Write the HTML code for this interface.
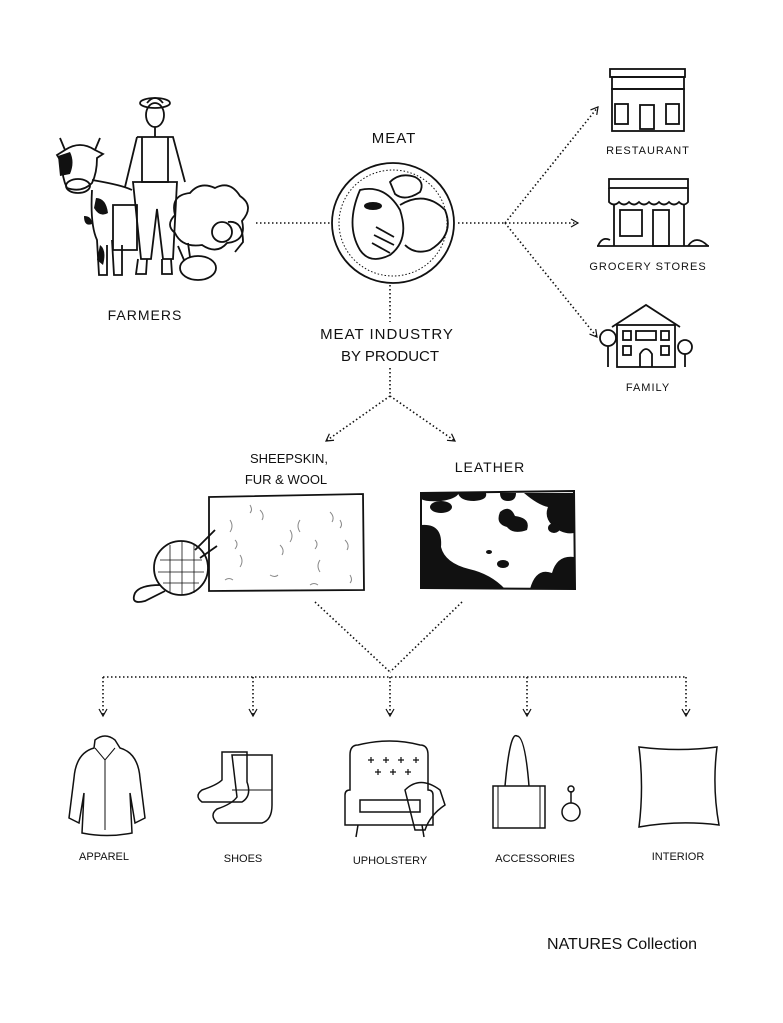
<!DOCTYPE html>
<html><head><meta charset="utf-8"><style>
html,body{margin:0;padding:0;background:#fff}
svg{display:block}
text{font-family:"Liberation Sans",sans-serif;fill:#111}
</style></head><body>
<svg width="783" height="1023" viewBox="0 0 783 1023" xmlns="http://www.w3.org/2000/svg">
<defs>
<marker id="ah" markerWidth="10" markerHeight="10" refX="8" refY="5" orient="auto" markerUnits="userSpaceOnUse">
<path d="M1,1 L8,5 L1,9" fill="none" stroke="#111" stroke-width="1.2"/></marker>
</defs>
<g fill="none" stroke="#111" stroke-width="1.6" stroke-dasharray="1.5 2.5">
<line x1="256" y1="223" x2="330" y2="223"/>
<line x1="458" y1="223" x2="505" y2="223"/>
<line x1="505" y1="223" x2="598" y2="107" marker-end="url(#ah)"/>
<line x1="505" y1="223" x2="578" y2="223" marker-end="url(#ah)"/>
<line x1="505" y1="223" x2="597" y2="337" marker-end="url(#ah)"/>
<line x1="390" y1="285" x2="390" y2="322"/>
<line x1="390" y1="368" x2="390" y2="396"/>
<line x1="390" y1="396" x2="326" y2="441" marker-end="url(#ah)"/>
<line x1="390" y1="396" x2="455" y2="441" marker-end="url(#ah)"/>
<line x1="315" y1="602" x2="390" y2="672"/>
<line x1="462" y1="602" x2="390" y2="672"/>
<line x1="103" y1="677" x2="686" y2="677"/>
<line x1="103" y1="677" x2="103" y2="716" marker-end="url(#ah)"/>
<line x1="253" y1="677" x2="253" y2="716" marker-end="url(#ah)"/>
<line x1="390" y1="677" x2="390" y2="716" marker-end="url(#ah)"/>
<line x1="527" y1="677" x2="527" y2="716" marker-end="url(#ah)"/>
<line x1="686" y1="677" x2="686" y2="716" marker-end="url(#ah)"/>
</g>

<!-- Farmers -->
<g fill="none" stroke="#111" stroke-width="1.8">
<ellipse cx="155" cy="103" rx="15" ry="5"/><path d="M147,103 q8,-10 16,0"/>
<ellipse cx="155" cy="115" rx="9" ry="12"/>
<path d="M137,137 h36 l12,45 M137,137 l-12,50 M155,127 v10"/>
<path d="M142,137 v45 h26 v-45"/>
<path d="M133,182 h44 l-4,77 h-10 l-6,-50 l-6,50 h-10 z"/>
<path d="M138,259 l-2,15 h10 l1,-15 M162,259 l0,15 h10 l-1,-15"/>
<path d="M113,205 h24 v45 h-24z"/>
<!-- cow -->
<path d="M57,155 l8,-5 q15,-10 30,0 l8,4 l-6,4 q0,15 -5,25 q-10,10 -25,5 q-5,-10 -5,-25z"/>
<path d="M65,150 l-5,-12 M95,150 l5,-12"/>
<ellipse cx="78" cy="186" rx="12" ry="7"/>
<path d="M92,180 q30,5 40,10 M92,190 q-2,35 5,50 l2,35 h8 l0,-30 M112,240 l2,35 h8 l0,-30"/>
<!-- sheep -->
<path d="M175,215 q-5,-20 15,-22 q10,-12 25,-5 q15,-8 25,8 q15,10 2,25 q5,20 -15,22 q-10,12 -25,2 q-20,3 -27,-12 q-10,-8 0,-18z"/>
<circle cx="222" cy="232" r="10"/>
<path d="M228,222 q15,-2 15,20 l-8,10"/>
<ellipse cx="198" cy="268" rx="18" ry="12"/>
<path d="M184,260 l-6,-14 M190,257 l-2,-14"/>
</g>
<path d="M58,156 l12,-4 q5,10 0,22 l-10,2z M96,198 q10,0 12,15 q-8,5 -14,-5z M84,216 q8,0 8,8 q-8,3 -8,-8z M100,245 q7,5 3,20 l-6,-5z" fill="#111"/>
<text x="145" y="320" font-size="14" text-anchor="middle" letter-spacing="1">FARMERS</text>

<!-- Meat plate -->
<text x="394" y="143" font-size="15" text-anchor="middle" letter-spacing="1">MEAT</text>
<g fill="none" stroke="#111" stroke-width="1.8">
<ellipse cx="393" cy="223" rx="61" ry="60"/>
<ellipse cx="393" cy="223" rx="54" ry="53" stroke-width="1" stroke-dasharray="1.5 2"/>
<path d="M360,190 q25,-6 40,20 q10,30 -10,45 q-20,10 -30,-5 q-15,-25 0,-60z"/>
<path d="M400,205 q25,-15 45,5 q10,25 -15,40 q-15,5 -25,-5"/>
<path d="M390,182 q10,-10 25,-5 q10,5 5,15 q-15,10 -25,2z"/>
<path d="M374,235 l20,10 M372,243 l18,10 M376,227 l18,10"/>
</g>
<ellipse cx="373" cy="206" rx="9" ry="4" fill="#111"/>

<!-- Restaurant -->
<g fill="none" stroke="#111" stroke-width="1.8">
<rect x="610" y="69" width="75" height="8"/>
<rect x="612" y="77" width="72" height="12"/>
<rect x="612" y="89" width="72" height="42"/>
<rect x="615" y="104" width="13" height="20"/><rect x="666" y="104" width="13" height="20"/>
<rect x="640" y="105" width="14" height="24"/>
</g>
<text x="648" y="154" font-size="11" text-anchor="middle" letter-spacing="1">RESTAURANT</text>
<!-- Grocery -->
<g fill="none" stroke="#111" stroke-width="1.8">
<rect x="609" y="179" width="79" height="9"/>
<path d="M609,188 v14 q5,5 10,0 q5,5 10,0 q5,5 10,0 q5,5 10,0 q5,5 10,0 q5,5 10,0 q5,5 10,0 q5,5 9,0 v-14"/>
<path d="M614,204 v42 M684,204 v42 M597,246 h112"/>
<rect x="620" y="210" width="22" height="26"/>
<rect x="653" y="210" width="16" height="36"/>
<path d="M598,246 q4,-10 12,-6 M688,246 q8,-12 20,0"/>
</g>
<text x="648" y="270" font-size="11" text-anchor="middle" letter-spacing="1">GROCERY STORES</text>
<!-- Family -->
<g fill="none" stroke="#111" stroke-width="1.8">
<path d="M612,327 l34,-22 l34,22"/>
<rect x="617" y="325" width="58" height="42"/>
<rect x="623" y="331" width="8" height="9"/><rect x="636" y="331" width="20" height="9"/><rect x="661" y="331" width="8" height="9"/>
<rect x="623" y="346" width="8" height="9"/><rect x="661" y="346" width="8" height="9"/>
<path d="M640,367 v-13 q6,-10 12,0 v13"/>
<circle cx="608" cy="338" r="8"/><circle cx="685" cy="347" r="7"/>
<path d="M608,346 v21 M685,354 v13"/>
</g>
<text x="648" y="391" font-size="11" text-anchor="middle" letter-spacing="1">FAMILY</text>

<text x="387" y="339" font-size="15" text-anchor="middle" letter-spacing="1">MEAT INDUSTRY</text>
<text x="390" y="361" font-size="15" text-anchor="middle">BY PRODUCT</text>

<text x="289" y="463" font-size="13" text-anchor="middle">SHEEPSKIN,</text>
<text x="286" y="484" font-size="13" text-anchor="middle">FUR &amp; WOOL</text>
<text x="490" y="472" font-size="14" text-anchor="middle" letter-spacing="1">LEATHER</text>

<!-- Sheepskin -->
<g fill="none" stroke="#111" stroke-width="1.8">
<path d="M209,497 L363,494 L364,590 L209,591 Z"/>
<circle cx="181" cy="568" r="27"/>
<path d="M160,560 h42 M158,572 h46 M163,583 h36 M170,545 v48 M182,541 v54 M194,545 v48" stroke-width="0.8"/>
<path d="M195,550 l20,-20 M200,558 l17,-12 M160,585 q-20,0 -25,8 q-5,12 10,8 q10,-5 20,-10"/>
</g>
<g stroke="#888" stroke-width="1" fill="none">
<path d="M230,520 q4,6 0,12 M260,510 q5,5 2,10 M300,520 q-4,6 0,12 M330,512 q5,5 2,10 M240,555 q4,6 0,12 M280,545 q5,5 2,10 M320,560 q-4,6 0,12 M345,540 q5,5 2,10 M270,575 q5,3 8,0 M225,580 q4,-3 8,0 M310,585 q4,-3 8,0 M290,530 q4,6 0,12 M350,575 q3,5 0,8 M250,505 q3,5 0,8 M315,540 q4,4 0,9 M235,540 q4,4 0,9 M340,520 q3,5 0,8"/>
</g>
<!-- Leather -->
<path d="M421,493 L574,491 L575,589 L421,588 Z" fill="#fff" stroke="#111" stroke-width="2"/>
<g fill="#111">
<path d="M421,493 h38 q-3,6 -18,8 q-15,1 -20,-2z"/>
<ellipse cx="441" cy="507" rx="11" ry="6"/>
<path d="M458,493 h28 q2,7 -12,8 q-14,0 -16,-8z"/>
<path d="M500,493 h16 q0,8 -8,8 q-8,0 -8,-8z"/>
<path d="M524,493 h50 v40 q-12,2 -22,-8 q-8,-8 -4,-18 q-10,-2 -24,-14z"/>
<path d="M500,512 q10,-8 15,4 q16,2 12,14 q-14,5 -20,-3 q-12,-3 -7,-15z"/>
<ellipse cx="554" cy="528" rx="6" ry="5"/>
<ellipse cx="489" cy="552" rx="3" ry="2"/>
<ellipse cx="503" cy="564" rx="6" ry="4"/>
<path d="M421,525 q22,-2 20,22 q4,16 28,22 q22,5 36,20 h-84z"/>
<path d="M530,589 q6,-22 22,-16 q5,-18 22,-16 v32z"/>
</g>

<!-- Bottom icons -->
<g fill="none" stroke="#111" stroke-width="1.5">
<path d="M95,740 q10,-8 20,0 l5,8 q18,5 20,30 l5,40 l-10,5 l-5,-30 l2,40 q-25,5 -50,0 l2,-40 l-5,30 l-10,-5 l5,-40 q2,-25 20,-30z"/>
<path d="M95,748 l10,12 l10,-12 M105,760 v70" stroke-width="1"/>
<path d="M222,752 h25 v30 q5,14 -5,20 h-40 q-8,-6 0,-12 q15,-5 20,-10z"/>
<path d="M232,755 h40 v50 q0,15 -10,18 h-45 q-8,-8 0,-14 q15,-5 20,-12z"/>
<path d="M232,790 h40" stroke-width="1"/>
<path d="M358,745 q-8,0 -8,10 v35 q-5,0 -5,5 v30 h88 v-30 q0,-5 -5,-5 v-35 q0,-10 -8,-10 q-30,-8 -62,0z"/>
<path d="M360,800 h60 v12 h-60z M358,825 l-2,12 M422,825 l2,12"/>
<path d="M405,790 q15,-15 35,0 l5,15 q-15,10 -20,25 h-10z"/>
<g stroke-width="1.2"><path d="M368,760 h6 M371,757 v6 M383,760 h6 M386,757 v6 M398,760 h6 M401,757 v6 M413,760 h6 M416,757 v6 M375,772 h6 M378,769 v6 M390,772 h6 M393,769 v6 M405,772 h6 M408,769 v6"/></g>
<path d="M493,786 h52 v42 h-52z M505,786 q5,-55 12,-50 q8,0 12,50"/>
<path d="M498,786 v42 M540,786 v42" stroke-width="1"/>
<circle cx="571" cy="812" r="9"/><path d="M571,803 v-12"/><circle cx="571" cy="789" r="3"/>
<path d="M639,747 q40,5 78,0 q-5,40 2,78 q-40,-5 -80,2 q5,-40 0,-80z"/>
</g>

<g font-size="11" text-anchor="middle">
<text x="104" y="860">APPAREL</text>
<text x="243" y="862">SHOES</text>
<text x="390" y="864">UPHOLSTERY</text>
<text x="535" y="862">ACCESSORIES</text>
<text x="678" y="860">INTERIOR</text>
</g>
<text x="622" y="949" font-size="16" text-anchor="middle">NATURES Collection</text>
</svg>
</body></html>
